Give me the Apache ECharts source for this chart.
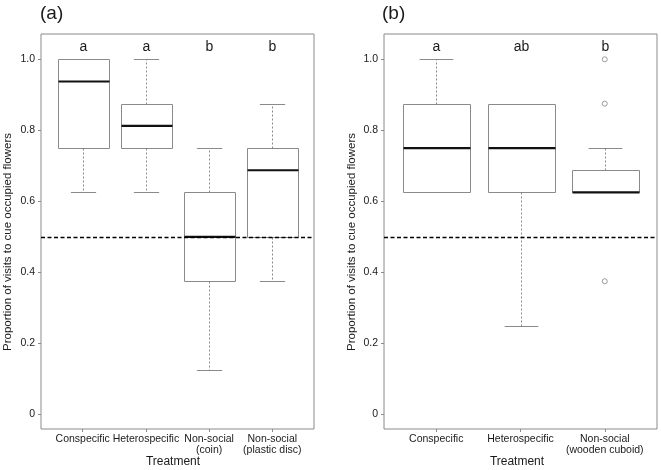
<!DOCTYPE html>
<html>
<head>
<meta charset="utf-8">
<script src="https://cdn.jsdelivr.net/npm/echarts@6/dist/echarts.min.js"></script>
<style>
html,body{margin:0;padding:0;background:#fff;}
#chart{width:661px;height:470px;}
</style>
</head>
<body>
<div id="chart"></div>
<script>
// ---- data ----
const catsA = ['Conspecific', 'Heterospecific', 'Non-social\n(coin)', 'Non-social\n(plastic disc)'];
// [min, q1, median, q3, max]
const boxA = [
  [0.625, 0.75, 0.9375, 1.0, 1.0],
  [0.625, 0.75, 0.8125, 0.875, 1.0],
  [0.125, 0.375, 0.5, 0.625, 0.75],
  [0.375, 0.5, 0.6875, 0.75, 0.875]
];
const lettersA = ['a', 'a', 'b', 'b'];

const catsB = ['Conspecific', 'Heterospecific', 'Non-social\n(wooden cuboid)'];
const boxB = [
  [0.625, 0.625, 0.75, 0.875, 1.0],
  [0.25, 0.625, 0.75, 0.875, 0.875],
  [0.625, 0.625, 0.625, 0.6875, 0.75]
];
const outliersB = [[3, 1.0], [3, 0.875], [3, 0.375]];
const lettersB = ['a', 'ab', 'b'];

const yTicks = [0, 0.2, 0.4, 0.6, 0.8, 1.0];
const refLine = [0.5];
const letterY = 1.035;

// ---- styling ----
const FONT = 'Liberation Sans, Arial, Helvetica, sans-serif';
const GREY = '#8a8a8a';
const TXT = '#1a1a1a';

function boxRenderer(letters) {
  return function (params, api) {
    const x = api.value(0);
    const mn = api.value(1), q1 = api.value(2), md = api.value(3), q3 = api.value(4), mx = api.value(5);
    const w = api.size([0.8, 0])[0];
    const half = w / 2, cap = w / 4;
    const cx = Math.round(api.coord([x, 0])[0]) + 0.5;
    const y = v => Math.round(api.coord([x, v])[1]) + 0.5;
    const yMn = y(mn), yQ1 = y(q1), yMd = api.coord([x, md])[1], yQ3 = y(q3), yMx = y(mx);
    const left = Math.round(cx - half) + 0.5, right = Math.round(cx + half) + 0.5;
    const children = [];
    if (mx > q3) children.push({type: 'line', shape: {x1: cx, y1: yQ3, x2: cx, y2: yMx},
      style: {stroke: GREY, lineWidth: 1, lineDash: [2, 2]}});
    if (mn < q1) children.push({type: 'line', shape: {x1: cx, y1: yQ1, x2: cx, y2: yMn},
      style: {stroke: GREY, lineWidth: 1, lineDash: [2, 2]}});
    children.push({type: 'line', shape: {x1: cx - cap, y1: yMx, x2: cx + cap, y2: yMx}, style: {stroke: GREY, lineWidth: 1}});
    children.push({type: 'line', shape: {x1: cx - cap, y1: yMn, x2: cx + cap, y2: yMn}, style: {stroke: GREY, lineWidth: 1}});
    children.push({type: 'rect', shape: {x: left, y: yQ3, width: right - left, height: yQ1 - yQ3},
      style: {fill: '#fff', stroke: GREY, lineWidth: 1}});
    children.push({type: 'line', shape: {x1: left, y1: yMd, x2: right, y2: yMd}, style: {stroke: '#111', lineWidth: 2.2}});
    const ty = api.coord([x, letterY])[1];
    children.push({type: 'text', x: cx, y: ty, style: {text: letters[params.dataIndex], fill: TXT,
      font: '14px ' + FONT, align: 'center', verticalAlign: 'middle'}});
    return {type: 'group', children: children};
  };
}

function refRenderer(params, api) {
  const cs = params.coordSys;
  const yy = Math.round(api.coord([1, api.value(0)])[1]) + 0.5;
  return {type: 'line', shape: {x1: cs.x, y1: yy, x2: cs.x + cs.width, y2: yy},
    style: {stroke: '#000', lineWidth: 1.3, lineDash: [4, 2.5]}};
}

function xAxis(idx, cats, min, max) {
  const vals = cats.map((c, i) => i + 1);
  return {
    type: 'value', gridIndex: idx, min: min, max: max, position: 'bottom',
    axisLine: {show: false, onZero: false}, splitLine: {show: false},
    axisTick: {show: true, customValues: vals, length: 3, lineStyle: {color: GREY, width: 1}},
    axisLabel: {show: true, customValues: vals, margin: 5, fontSize: 10.5, lineHeight: 11, color: TXT,
      fontFamily: FONT, formatter: v => cats[Math.round(v) - 1] || ''}
  };
}
function yAxis(idx) {
  return {
    type: 'value', gridIndex: idx, min: -0.0412, max: 1.0712, position: 'left',
    axisLine: {show: false, onZero: false}, splitLine: {show: false},
    axisTick: {show: true, customValues: yTicks, length: 3, lineStyle: {color: GREY}},
    axisLabel: {show: true, customValues: yTicks, margin: 6, fontSize: 10.5, color: TXT, fontFamily: FONT,
      formatter: v => (Math.abs(v) < 1e-9 ? '0' : v.toFixed(1))}
  };
}

const chart = echarts.init(document.getElementById('chart'), null, {renderer: 'canvas'});
const gridStyle = {show: true, borderColor: GREY, borderWidth: 1, backgroundColor: 'transparent', containLabel: false};
chart.setOption({
  animation: false,
  backgroundColor: '#fff',
  textStyle: {fontFamily: FONT},
  grid: [
    Object.assign({left: 41, top: 34, width: 273, height: 395}, gridStyle),
    Object.assign({left: 384, top: 34, width: 273, height: 395}, gridStyle)
  ],
  xAxis: [xAxis(0, catsA, 0.34, 4.66), xAxis(1, catsB, 0.38, 3.62)],
  yAxis: [yAxis(0), yAxis(1)],
  series: [
    {type: 'custom', xAxisIndex: 0, yAxisIndex: 0, renderItem: refRenderer, data: refLine.map(v => [v]), silent: true, z: 3},
    {type: 'custom', xAxisIndex: 1, yAxisIndex: 1, renderItem: refRenderer, data: refLine.map(v => [v]), silent: true, z: 3},
    {type: 'custom', xAxisIndex: 0, yAxisIndex: 0, renderItem: boxRenderer(lettersA), silent: true, z: 2,
      data: boxA.map((b, i) => [i + 1].concat(b))},
    {type: 'custom', xAxisIndex: 1, yAxisIndex: 1, renderItem: boxRenderer(lettersB), silent: true, z: 2,
      data: boxB.map((b, i) => [i + 1].concat(b))},
    {type: 'scatter', xAxisIndex: 1, yAxisIndex: 1, data: outliersB, symbol: 'circle', symbolSize: 5,
      itemStyle: {color: '#fff', borderColor: '#777', borderWidth: 0.9}, silent: true, z: 4}
  ],
  graphic: [
    {type: 'text', left: 40, top: 4, style: {text: '(a)', font: '19px ' + FONT, fill: TXT}},
    {type: 'text', left: 382, top: 4, style: {text: '(b)', font: '19px ' + FONT, fill: TXT}},
    {type: 'text', x: 8, y: 242, rotation: Math.PI / 2,
      style: {text: 'Proportion of visits to cue occupied flowers', font: '11.5px ' + FONT, fill: TXT, align: 'center', verticalAlign: 'middle'}},
    {type: 'text', x: 352, y: 242, rotation: Math.PI / 2,
      style: {text: 'Proportion of visits to cue occupied flowers', font: '11.5px ' + FONT, fill: TXT, align: 'center', verticalAlign: 'middle'}},
    {type: 'text', x: 173, y: 462, style: {text: 'Treatment', font: '12px ' + FONT, fill: TXT, align: 'center', verticalAlign: 'middle'}},
    {type: 'text', x: 517, y: 462, style: {text: 'Treatment', font: '12px ' + FONT, fill: TXT, align: 'center', verticalAlign: 'middle'}}
  ]
});
</script>
</body>
</html>
